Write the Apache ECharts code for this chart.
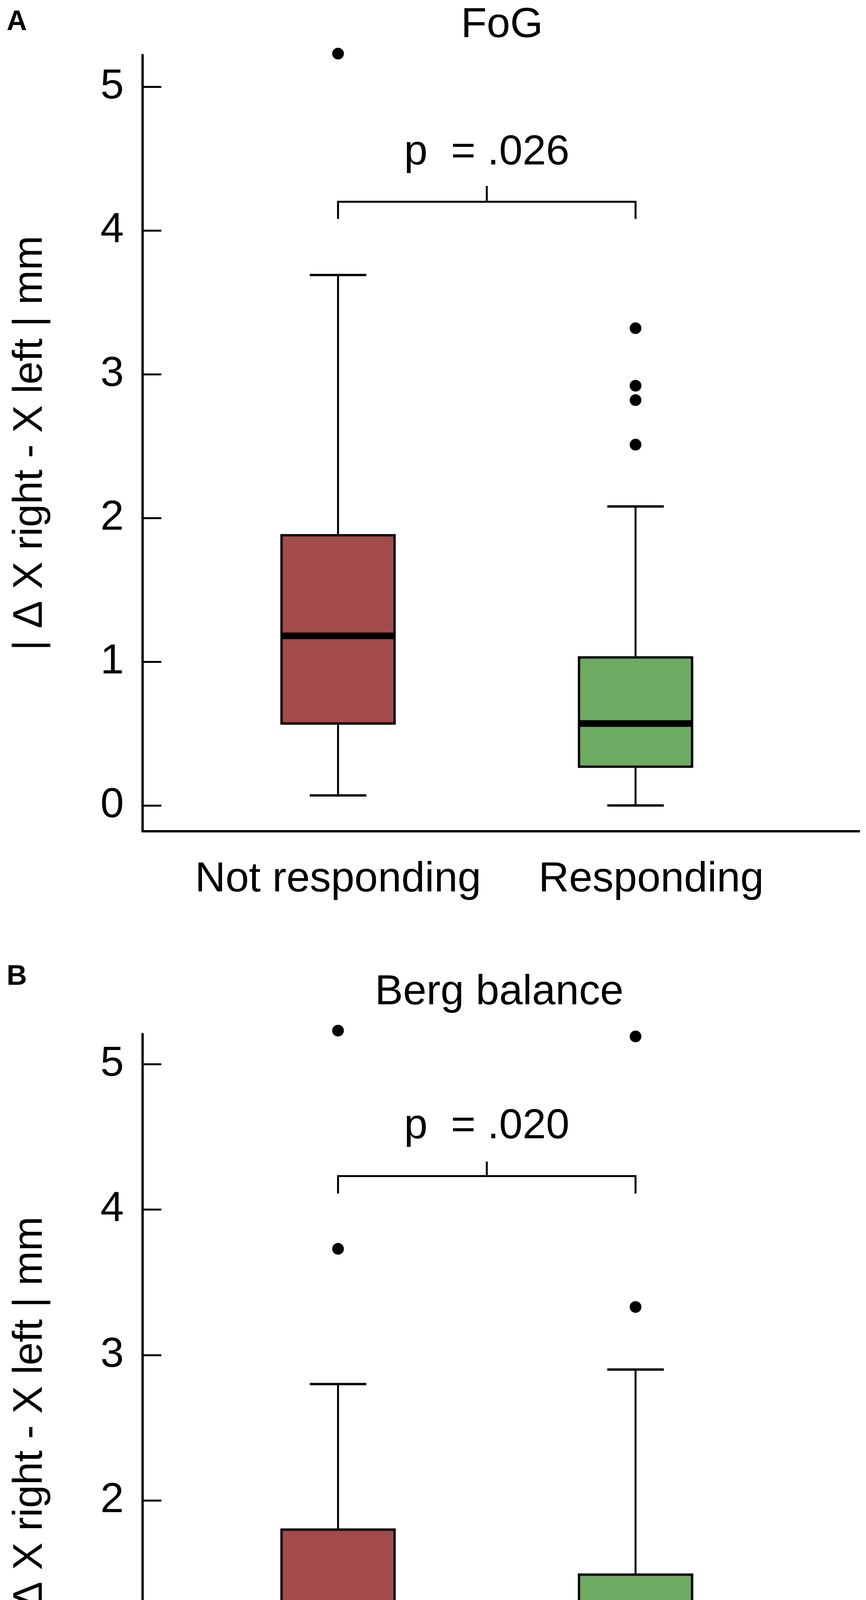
<!DOCTYPE html>
<html>
<head>
<meta charset="utf-8">
<title>FoG / Berg balance</title>
<script src="https://cdn.jsdelivr.net/npm/echarts@6/dist/echarts.min.js"></script>
<style>
    html, body { margin: 0; padding: 0; background: #fff; }
    #chart { width: 2217px; height: 4843px; }
</style>
</head>
<body>
<div id="chart"></div>
<script>
// groups on the x axis
var groups = ['Not responding', 'Responding'];
var groupColors = ['#a34a4b', '#6eab62'];

// box values: [low whisker, Q1, median, Q3, high whisker]
var fogBox = [
    [0.07, 0.57, 1.18, 1.88, 3.69],
    [0.00, 0.27, 0.57, 1.03, 2.08]
];
var fogOutliers = [
    [5.23],
    [3.32, 2.92, 2.82, 2.51]
];
var bergBox = [
    [0.00, 0.60, 1.20, 1.80, 2.80],
    [0.00, 0.40, 0.70, 1.49, 2.90]
];
var bergOutliers = [
    [3.73, 5.23],
    [3.33, 5.19]
];

// significance bracket: [end of legs, bar, top of middle tick, text]
var fogBracket = [4.08, 4.20, 4.31, 4.54];
var bergBracket = [4.11, 4.23, 4.33, 4.57];
var fogP = 'p  = .026';
var bergP = 'p  = .020';

var yTicks = [0, 1, 2, 3, 4, 5];
var yName = '| \u0394 X right - X left | mm';

var FONT = '"Liberation Sans", Arial, sans-serif';
var BOX_W = 0.38;
var CAP_W = 0.19;

function boxData(box) {
    return box.map(function(b, i) {
        return [i + 1].concat(b);
    });
}

function outlierData(out) {
    var list = [];
    out.forEach(function(vals, i) {
        vals.forEach(function(v) {
            list.push([i + 1, v]);
        });
    });
    return list;
}

function renderBox(params, api) {
    var x = api.value(0);
    var pLow = api.coord([x, api.value(1)]);
    var pQ1 = api.coord([x, api.value(2)]);
    var pMed = api.coord([x, api.value(3)]);
    var pQ3 = api.coord([x, api.value(4)]);
    var pHigh = api.coord([x, api.value(5)]);
    var half = api.size([BOX_W, 0])[0] / 2;
    var cap = api.size([CAP_W, 0])[0] / 2;
    var cx = pMed[0];
    var line = { stroke: '#000', lineWidth: 5 };

    return {
        type: 'group',
        children: [
            { type: 'line', shape: { x1: cx, y1: pHigh[1], x2: cx, y2: pQ3[1] }, style: line },
            { type: 'line', shape: { x1: cx, y1: pQ1[1], x2: cx, y2: pLow[1] }, style: line },
            { type: 'line', shape: { x1: cx - cap, y1: pHigh[1], x2: cx + cap, y2: pHigh[1] }, style: { stroke: '#000', lineWidth: 6 } },
            { type: 'line', shape: { x1: cx - cap, y1: pLow[1], x2: cx + cap, y2: pLow[1] }, style: { stroke: '#000', lineWidth: 6 } },
            {
                type: 'rect',
                shape: { x: cx - half, y: pQ3[1], width: half * 2, height: pQ1[1] - pQ3[1] },
                style: { fill: groupColors[params.dataIndex], stroke: '#000', lineWidth: 6 }
            },
            { type: 'line', shape: { x1: cx - half, y1: pMed[1], x2: cx + half, y2: pMed[1] }, style: { stroke: '#000', lineWidth: 17 } }
        ]
    };
}

function makeBracketRender(label) {
    return function(params, api) {
        var x1 = api.value(0), x2 = api.value(1);
        var a = api.coord([x1, api.value(2)]);
        var b = api.coord([x1, api.value(3)]);
        var c = api.coord([x2, api.value(3)]);
        var d = api.coord([x2, api.value(2)]);
        var m = api.coord([(x1 + x2) / 2, api.value(4)]);
        var t = api.coord([(x1 + x2) / 2, api.value(5)]);
        return {
            type: 'group',
            children: [
                { type: 'polyline', shape: { points: [a, b, c, d] }, style: { stroke: '#000', lineWidth: 5, fill: null } },
                { type: 'line', shape: { x1: m[0], y1: b[1], x2: m[0], y2: m[1] }, style: { stroke: '#000', lineWidth: 5 } },
                {
                    type: 'text', x: t[0], y: t[1],
                    style: { text: label, fill: '#000', fontSize: 108, fontFamily: FONT, align: 'center', verticalAlign: 'middle' }
                }
            ]
        };
    };
}

function makeXAxis(gridIndex, labelMargin) {
    return {
        gridIndex: gridIndex,
        type: 'value',
        min: 0.343,
        max: 2.751,
        splitLine: { show: false },
        axisLine: { onZero: false, lineStyle: { color: '#000', width: 6 } },
        axisTick: { show: false },
        axisLabel: {
            customValues: [1, 2],
            // the second label sits a little right of its box in the original
            formatter: function(v) {
                return v === 2 ? '{r|' + groups[1] + '}' : (groups[v - 1] || '');
            },
            rich: {
                r: { fontSize: 108, fontFamily: FONT, color: '#000', padding: [0, 0, 0, 80] }
            },
            color: '#000',
            fontSize: 108,
            fontFamily: FONT,
            margin: labelMargin
        }
    };
}

function makeYAxis(gridIndex, min, max) {
    return {
        gridIndex: gridIndex,
        type: 'value',
        min: min,
        max: max,
        name: yName,
        nameLocation: 'middle',
        nameGap: 234,
        nameTextStyle: { color: '#000', fontSize: 106, fontFamily: FONT },
        splitLine: { show: false },
        axisLine: { onZero: false, lineStyle: { color: '#000', width: 6 } },
        axisTick: { inside: true, length: 48, customValues: yTicks, lineStyle: { color: '#000', width: 5 } },
        axisLabel: { customValues: yTicks, color: '#000', fontSize: 108, fontFamily: FONT, margin: 48 }
    };
}

function panelSeries(idx, box, outliers, bracket, pLabel) {
    return [
        {
            type: 'custom',
            xAxisIndex: idx,
            yAxisIndex: idx,
            renderItem: renderBox,
            encode: { x: 0, y: [1, 2, 3, 4, 5] },
            data: boxData(box),
            clip: false,
            z: 2
        },
        {
            type: 'scatter',
            xAxisIndex: idx,
            yAxisIndex: idx,
            symbol: 'circle',
            symbolSize: 30,
            itemStyle: { color: '#000', opacity: 1 },
            data: outlierData(outliers),
            clip: false,
            z: 3
        },
        {
            type: 'custom',
            xAxisIndex: idx,
            yAxisIndex: idx,
            renderItem: makeBracketRender(pLabel),
            encode: { x: [0, 1], y: [2, 3, 4, 5] },
            data: [[1, 2].concat(bracket)],
            clip: false,
            z: 3
        }
    ];
}

var chart = echarts.init(document.getElementById('chart'), null, { renderer: 'canvas' });

var option = {
    backgroundColor: '#fff',
    animation: false,
    title: [
        { text: 'A', left: 12, top: 16, textStyle: { fontSize: 72, fontWeight: 'bold', color: '#000', fontFamily: FONT } },
        { text: 'FoG', left: 1280, top: 6, textAlign: 'center', textStyle: { fontSize: 108, fontWeight: 'normal', color: '#000', fontFamily: FONT } },
        { text: 'B', left: 12, top: 2460, textStyle: { fontSize: 72, fontWeight: 'bold', color: '#000', fontFamily: FONT } },
        { text: 'Berg balance', left: 1273, top: 2482, textAlign: 'center', textStyle: { fontSize: 108, fontWeight: 'normal', color: '#000', fontFamily: FONT } }
    ],
    grid: [
        { left: 365, right: 18, top: 141, height: 1987 },
        { left: 365, right: 18, top: 2647, height: 1997 }
    ],
    xAxis: [makeXAxis(0, 70), makeXAxis(1, 78)],
    yAxis: [makeYAxis(0, -0.179, 5.22), makeYAxis(1, -0.156, 5.207)],
    series: panelSeries(0, fogBox, fogOutliers, fogBracket, fogP)
        .concat(panelSeries(1, bergBox, bergOutliers, bergBracket, bergP))
};

chart.setOption(option);
</script>
</body>
</html>
